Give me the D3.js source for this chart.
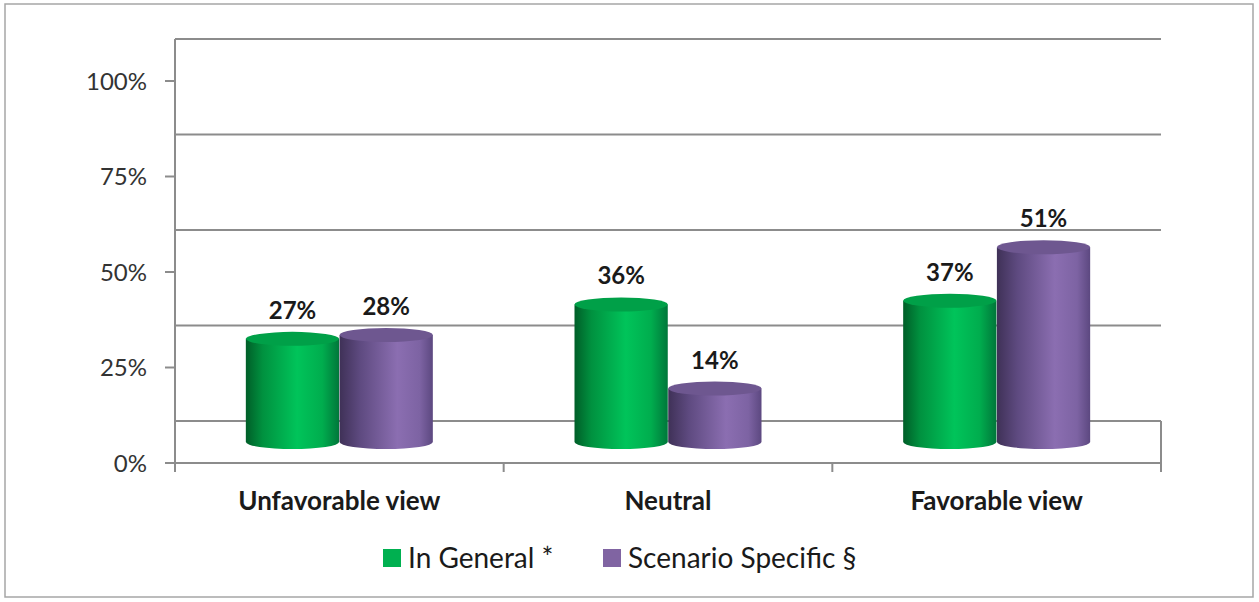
<!DOCTYPE html>
<html>
<head>
<meta charset="utf-8">
<script src="https://cdn.jsdelivr.net/npm/d3@7"></script>
<style>
  body { margin: 0; background: #fff; }
  svg text { font-family: Lato, "Open Sans", sans-serif; fill: #1a1a1a; }
</style>
</head>
<body>
<div id="chart"></div>
<script>
// data
var categories = ["Unfavorable view", "Neutral", "Favorable view"]
var seriesNames = ["In General *", "Scenario Specific §"]
var inGeneral = [0.27, 0.36, 0.37]
var scenarioSpecific = [0.28, 0.14, 0.51]
var yTicks = [0, 0.25, 0.5, 0.75, 1]

var width = 1259, height = 602
var depth = 42          // vertical shift from front edge to back wall
var plotLeft = 175, plotRight = 1161

const svg = d3.select("#chart").append("svg")
    .attr("width", width)
    .attr("height", height)

// gradients for the cylinder sides
var defs = svg.append("defs")
var gradStops = [
    [["0%", "#005e28"], ["18%", "#00913f"], ["55%", "#00c45a"], ["82%", "#00ad4e"], ["100%", "#00773a"]],
    [["0%", "#3f3157"], ["22%", "#5e4a80"], ["62%", "#8b6eb1"], ["86%", "#7d63a3"], ["100%", "#5c4880"]]
]
var topColors = ["#00a048", "#6e5790"]
var swatchColors = ["#00b050", "#8064a2"]
gradStops.forEach((stops, i) => {
    var g = defs.append("linearGradient").attr("id", "cyl" + i)
        .attr("x1", "0%").attr("x2", "100%").attr("y1", "0%").attr("y2", "0%")
    stops.forEach(s => g.append("stop").attr("offset", s[0]).attr("stop-color", s[1]))
})

// outer frame
svg.append("rect")
    .attr("x", 5).attr("y", 4).attr("width", 1248).attr("height", 593)
    .attr("fill", "none").attr("stroke", "#a6a6a6").attr("stroke-width", 1.5)

var yFront = d3.scaleLinear().domain([0, 1]).range([463, 81])
var yMid = v => yFront(v) - depth / 2
var yBack = v => yFront(v) - depth

var x0 = d3.scaleBand().domain(categories).range([plotLeft, plotRight])
var x1 = d3.scaleBand().domain(seriesNames).range([0, 187]).paddingInner(0.005)

var grid = svg.append("g").attr("stroke", "#8c8c8c").attr("stroke-width", 2).attr("fill", "none")

// back wall gridlines
grid.selectAll("line.back")
    .data(yTicks)
    .enter()
    .append("line")
    .attr("class", "back")
    .attr("x1", plotLeft).attr("x2", plotRight)
    .attr("y1", d => yBack(d)).attr("y2", d => yBack(d))

// left wall edge, floor front edge, right floor edge
grid.append("line").attr("x1", plotLeft).attr("x2", plotLeft).attr("y1", yBack(1)).attr("y2", yFront(0) + 9)
grid.append("line").attr("x1", plotLeft - 10).attr("x2", plotRight).attr("y1", yFront(0)).attr("y2", yFront(0))
grid.append("line").attr("x1", plotRight).attr("x2", plotRight).attr("y1", yBack(0)).attr("y2", yFront(0) + 9)

// left axis ticks and labels
var yAxis = svg.append("g")
yAxis.selectAll("line")
    .data(yTicks.slice(1))
    .enter()
    .append("line")
    .attr("x1", plotLeft - 10).attr("x2", plotLeft)
    .attr("y1", d => yFront(d)).attr("y2", d => yFront(d))
    .attr("stroke", "#8c8c8c").attr("stroke-width", 2)
yAxis.selectAll("text")
    .data(yTicks)
    .enter()
    .append("text")
    .attr("x", 147)
    .attr("y", d => yFront(d))
    .attr("dy", "0.36em")
    .attr("text-anchor", "end")
    .style("font-size", "24px")
    .style("fill", "#333")
    .text(d => Math.round(d * 100) + "%")

// category divider ticks
svg.append("g").selectAll("line")
    .data(categories.slice(1))
    .enter()
    .append("line")
    .attr("x1", d => x0(d)).attr("x2", d => x0(d))
    .attr("y1", yFront(0)).attr("y2", yFront(0) + 9)
    .attr("stroke", "#8c8c8c").attr("stroke-width", 2)

// category labels
svg.append("g").selectAll("text")
    .data(categories)
    .enter()
    .append("text")
    .attr("x", d => x0(d) + x0.bandwidth() / 2)
    .attr("y", 510)
    .attr("text-anchor", "middle")
    .style("font-size", "26px")
    .style("font-weight", "bold")
    .text(d => d)

// cylinders
var rows = []
categories.forEach((c, i) => {
    rows.push({ cat: c, s: 0, v: inGeneral[i] })
    rows.push({ cat: c, s: 1, v: scenarioSpecific[i] })
})
var ry = 7
var bw = x1.bandwidth()
var bars = svg.append("g").selectAll("g.bar")
    .data(rows)
    .enter()
    .append("g")
    .attr("class", "bar")
    .attr("transform", d => "translate(" + (x0(d.cat) + x0.bandwidth() / 2 - 93.5 + x1(seriesNames[d.s])) + ",0)")

bars.append("path")
    .attr("fill", d => "url(#cyl" + d.s + ")")
    .attr("d", d => {
        var yt = yMid(d.v), yb = yMid(0), rx = bw / 2
        return "M0," + yt + " L0," + yb +
            " A" + rx + "," + ry + " 0 0 0 " + bw + "," + yb +
            " L" + bw + "," + yt + " Z"
    })
bars.append("ellipse")
    .attr("cx", bw / 2)
    .attr("cy", d => yMid(d.v))
    .attr("rx", bw / 2)
    .attr("ry", ry)
    .attr("fill", d => topColors[d.s])
bars.append("text")
    .attr("x", bw / 2)
    .attr("y", d => yMid(d.v) - ry - 13)
    .attr("text-anchor", "middle")
    .style("font-size", "24px")
    .style("font-weight", "bold")
    .text(d => Math.round(d.v * 100) + "%")

// legend
var legendX = [383, 603]
var legend = svg.append("g").selectAll("g")
    .data(seriesNames)
    .enter()
    .append("g")
    .attr("transform", (d, i) => "translate(" + legendX[i] + ",549)")
legend.append("rect")
    .attr("width", 18).attr("height", 18)
    .attr("fill", (d, i) => swatchColors[i])
legend.append("text")
    .attr("x", 25)
    .attr("y", 9)
    .attr("dy", "0.36em")
    .style("font-size", "28px")
    .text(d => d)
</script>
</body>
</html>
